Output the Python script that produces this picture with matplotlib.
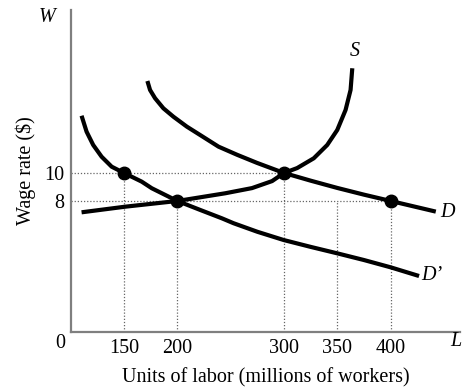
import matplotlib
matplotlib.use("Agg")
import matplotlib.pyplot as plt

plt.rcParams['font.family'] = ['Liberation Serif', 'DejaVu Serif']

# curves (labor in millions, wage in $)
d_x = [171.9, 174.4, 179.1, 186.9, 196.3, 208.9, 221.4, 238.6, 256.0, 274.7,
       300, 325.0, 350.0, 375.0, 400, 442.3]
d_y = [16.57, 15.93, 15.34, 14.62, 14.02, 13.31, 12.71, 11.88, 11.30, 10.72,
       10, 9.45, 8.93, 8.45, 8, 7.24]

d2_x = [110.2, 114.9, 121.1, 129.0, 138.4, 150, 166.6, 176.0, 200, 221.4, 241.8,
        252.7, 275.0, 299.7, 325.0, 349.9, 375.0, 400, 426.6]
d2_y = [14.09, 12.95, 12.00, 11.16, 10.45, 10, 9.38, 8.91, 8, 7.36, 6.76,
        6.41, 5.80, 5.21, 4.72, 4.26, 3.78, 3.26, 2.64]

s_x = [110.2, 150.9, 200, 244.9, 270.0, 288.8, 300, 312.3, 327.9, 340.5, 349.9,
       357.7, 362.4, 364.0]
s_y = [7.19, 7.59, 8, 8.55, 8.92, 9.42, 10, 10.35, 11.05, 12.00, 13.07,
       14.50, 15.93, 17.48]

# marked points
pts_x = [150, 300, 200, 400]
pts_y = [10, 10, 8, 8]

x_ticks = [150, 200, 300, 350, 400]
y_ticks = [8, 10]

fig = plt.figure(figsize=(4.62, 3.87), dpi=100)
ax = fig.add_axes([0.1537, 0.1421, 0.842, 0.832])
ax.set_xlim(100.3, 465)
ax.set_ylim(-1.36, 21.64)

x0, y0 = 100.3, -1.36

# dotted guide lines
dot = dict(color='#666666', lw=0.9, ls=(0, (1, 1.5)), zorder=1)
ax.plot([x0, 300], [10, 10], **dot)
ax.plot([x0, 400], [8, 8], **dot)
ax.plot([150, 150], [y0, 10], **dot)
ax.plot([200, 200], [y0, 8], **dot)
ax.plot([300, 300], [y0, 10], **dot)
ax.plot([350, 350], [y0, 8], **dot)
ax.plot([400, 400], [y0, 8], **dot)

lw = 3.0
for xs, ys in [(d_x, d_y), (d2_x, d2_y), (s_x, s_y)]:
    ax.plot(xs, ys, color='black', lw=lw, solid_joinstyle='round',
            solid_capstyle='butt', zorder=3)
ax.plot(pts_x, pts_y, 'o', color='black', ms=9, zorder=4)

for sp in ['top', 'right']:
    ax.spines[sp].set_visible(False)
for sp in ['left', 'bottom']:
    ax.spines[sp].set_color('#7f7f7f')
    ax.spines[sp].set_linewidth(1.6)

fs = 14.5
ax.set_xticks(x_ticks)
ax.set_xticklabels([str(v) for v in x_ticks])
ax.set_yticks(y_ticks)
ax.set_yticklabels([str(v) for v in y_ticks])
ax.tick_params(length=0, labelsize=fs, pad=5)

ax.text(366, 18.0, 'S', style='italic', fontsize=fs, ha='center', va='bottom')
ax.text(446, 7.2, 'D', style='italic', fontsize=fs, ha='left', va='center')
ax.text(429, 2.7, 'D\u2019', style='italic', fontsize=fs, ha='left', va='center')

fig.text(47 / 462, 1 - 17 / 387, 'W', style='italic', fontsize=fs, ha='center', va='center')
fig.text(456 / 462, 1 - 342 / 387, 'L', style='italic', fontsize=fs, ha='center', va='center')
fig.text(60 / 462, 1 - 343 / 387, '0', fontsize=fs, ha='center', va='center')

ax.set_xlabel('Units of labor (millions of workers)', fontsize=fs, labelpad=7)
ax.set_ylabel('Wage rate ($)', fontsize=fs, labelpad=6)

fig.savefig('out.png', dpi=100)
